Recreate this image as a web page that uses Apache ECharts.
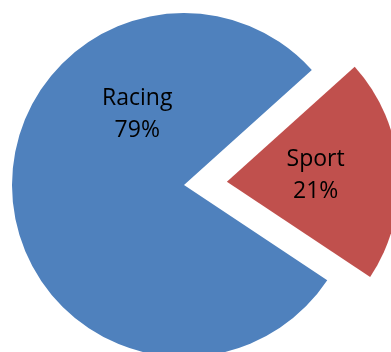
<!DOCTYPE html>
<html>
<head>
<meta charset="utf-8">
<script src="https://cdn.jsdelivr.net/npm/echarts@6/dist/echarts.min.js"></script>
<style>
  html, body { margin: 0; padding: 0; background: #fff; }
  #chart { width: 391px; height: 352px; }
</style>
</head>
<body>
<div id="chart"></div>
<script>
// Share of bikes by type
const categories = ['Racing', 'Sport'];
const shares = [79, 21];
const colors = ['#4F81BD', '#C0504D'];
const explodedCategory = 'Sport';

const chart = echarts.init(document.getElementById('chart'), null, { renderer: 'canvas' });

const pieData = categories.map((name, i) => ({
  name,
  value: shares[i],
  selected: name === explodedCategory,
  itemStyle: { color: colors[i] }
}));

chart.setOption({
  animation: false,
  series: [{
    type: 'pie',
    center: [184, 185],
    radius: 172,
    startAngle: 326.4,
    clockwise: true,
    selectedMode: 'single',
    selectedOffset: 43,
    avoidLabelOverlap: false,
    silent: true,
    itemStyle: { borderWidth: 0 },
    label: {
      show: true,
      position: 'inside',
      formatter: '{b}\n{d}%',
      color: '#000',
      fontFamily: 'Open Sans',
      fontSize: 23,
      lineHeight: 32,
      align: 'center'
    },
    labelLine: { show: false },
    labelLayout: function (params) {
      // the large slice's label sits in its upper-left area
      return params.dataIndex === 0 ? { dx: 42, dy: -77 } : {};
    },
    data: pieData
  }]
});
</script>
</body>
</html>
